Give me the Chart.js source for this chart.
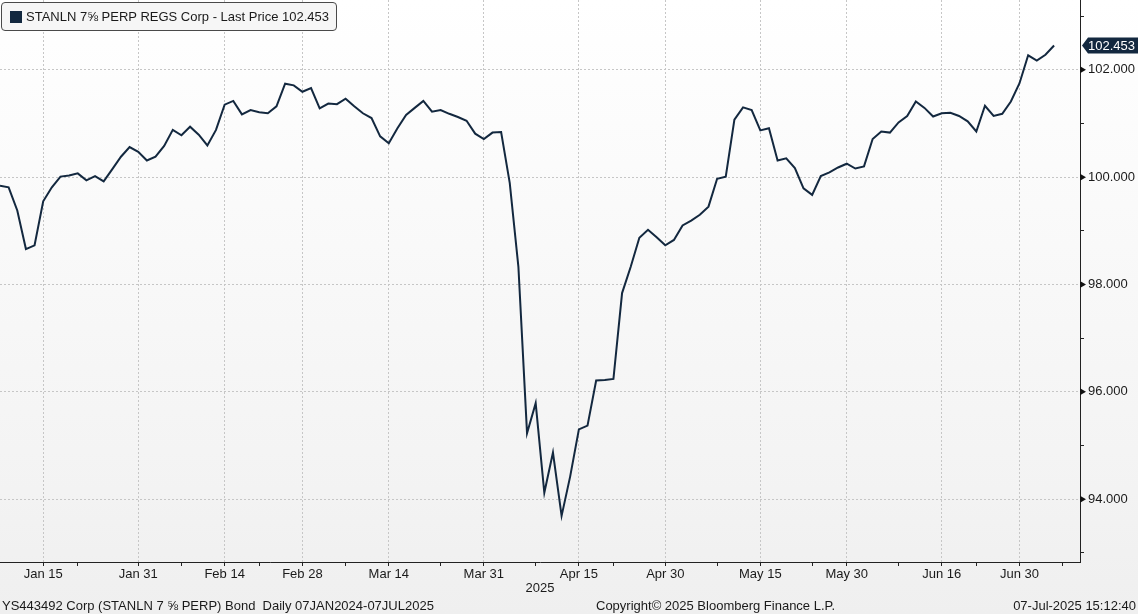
<!DOCTYPE html>
<html>
<head>
<meta charset="utf-8">
<script src="https://cdn.jsdelivr.net/npm/chart.js@4.4.1/dist/chart.umd.min.js"></script>
<style>
  html, body { margin: 0; padding: 0; }
  body {
    width: 1138px; height: 614px; overflow: hidden; position: relative;
    background: linear-gradient(to bottom, #ffffff 0%, #f3f3f3 80%, #efefef 100%);
    font-family: "Liberation Sans", Arial, sans-serif; color: #1a1a1a;
  }
  #wrap { position: absolute; left: 0; top: 0; width: 1138px; height: 614px; }
  .legend {
    position: absolute; left: 1px; top: 2px; width: 334px; height: 27px;
    border: 1px solid #4a4a4a; border-radius: 4px; background: #f6f6f6;
    font-size: 13px; line-height: 27px; box-sizing: content-box;
  }
  .legend .sw { position: absolute; left: 8px; top: 8px; width: 12px; height: 12px; background: #13283f; }
  .legend .txt { position: absolute; left: 24px; top: 0; white-space: nowrap; }
  .foot { position: absolute; top: 598px; font-size: 13px; white-space: nowrap; color: #1a1a1a; }
</style>
</head>
<body>
<div id="wrap"><canvas id="chart" width="1138" height="614"></canvas></div>
<div class="legend"><span class="sw"></span><span class="txt">STANLN 7⅝ PERP REGS Corp - Last Price 102.453</span></div>
<div class="foot" style="left:2px;">YS443492 Corp (STANLN 7 ⅝ PERP) Bond&nbsp; Daily 07JAN2024-07JUL2025</div>
<div class="foot" style="left:596px;">Copyright© 2025 Bloomberg Finance L.P.</div>
<div class="foot" style="right:2px;">07-Jul-2025 15:12:40</div>
<script>
// trading days shown on the axis (US bond holidays skipped)
const dates = [
  'Jan 8','Jan 9','Jan 10','Jan 13','Jan 14','Jan 15','Jan 16','Jan 17','Jan 21','Jan 22','Jan 23','Jan 24','Jan 27','Jan 28','Jan 29','Jan 30','Jan 31',
  'Feb 3','Feb 4','Feb 5','Feb 6','Feb 7','Feb 10','Feb 11','Feb 12','Feb 13','Feb 14','Feb 18','Feb 19','Feb 20','Feb 21','Feb 24','Feb 25','Feb 26','Feb 27','Feb 28',
  'Mar 3','Mar 4','Mar 5','Mar 6','Mar 7','Mar 10','Mar 11','Mar 12','Mar 13','Mar 14','Mar 17','Mar 18','Mar 19','Mar 20','Mar 21','Mar 24','Mar 25','Mar 26','Mar 27','Mar 28','Mar 31',
  'Apr 1','Apr 2','Apr 3','Apr 4','Apr 7','Apr 8','Apr 9','Apr 10','Apr 11','Apr 14','Apr 15','Apr 16','Apr 17','Apr 21','Apr 22','Apr 23','Apr 24','Apr 25','Apr 28','Apr 29','Apr 30',
  'May 1','May 2','May 5','May 6','May 7','May 8','May 9','May 12','May 13','May 14','May 15','May 16','May 19','May 20','May 21','May 22','May 23','May 27','May 28','May 29','May 30',
  'Jun 2','Jun 3','Jun 4','Jun 5','Jun 6','Jun 9','Jun 10','Jun 11','Jun 12','Jun 13','Jun 16','Jun 17','Jun 18','Jun 20','Jun 23','Jun 24','Jun 25','Jun 26','Jun 27','Jun 30',
  'Jul 1','Jul 2','Jul 3','Jul 7','Jul 8','Jul 9','Jul 10'
];

// last price per day
const prices = [
  99.84, 99.81, 99.38, 98.66, 98.73, 99.55, 99.81, 100.01, 100.03, 100.07, 99.94, 100.02, 99.92, 100.15, 100.38, 100.56, 100.47,
  100.31, 100.38, 100.58, 100.88, 100.78, 100.94, 100.79, 100.59, 100.88, 101.35, 101.42, 101.17, 101.25, 101.21, 101.19, 101.32, 101.74, 101.71, 101.59,
  101.66, 101.28, 101.37, 101.36, 101.46, 101.32, 101.19, 101.10, 100.76, 100.63, 100.91, 101.16, 101.29, 101.42, 101.22, 101.25, 101.18, 101.12, 101.05, 100.81, 100.71,
  100.83, 100.84, 99.89, 98.33, 95.23, 95.79, 94.12, 94.87, 93.69, 94.43, 95.30, 95.37, 96.21, 96.22, 96.24, 97.84, 98.33, 98.87, 99.02, 98.88, 98.73,
  98.83, 99.10, 99.19, 99.30, 99.45, 99.97, 100.01, 101.07, 101.30, 101.25, 100.87, 100.91, 100.31, 100.35, 100.17, 99.79, 99.67, 100.02, 100.09, 100.18, 100.25,
  100.16, 100.20, 100.71, 100.85, 100.83, 101.02, 101.14, 101.41, 101.29, 101.13, 101.19, 101.20, 101.14, 101.04, 100.85, 101.33, 101.14, 101.18, 101.41, 101.75,
  102.27, 102.17, 102.28, 102.453
];

const xMajor = ['Jan 15','Jan 31','Feb 14','Feb 28','Mar 14','Mar 31','Apr 15','Apr 30','May 15','May 30','Jun 16','Jun 30'];
const xMinor = ['Jan 22','Feb 7','Feb 21','Mar 7','Mar 24','Apr 8','Apr 22','May 8','May 23','Jun 9','Jun 23','Jul 8'];
const yTicks = [93, 94, 95, 96, 97, 98, 99, 100, 101, 102, 103];
const yMin = 92.83, yMax = 103.30;
const yearLabel = '2025';

const lineColor = '#13283f';
const gridColor = '#c6c6c6';
const isMajorY = v => Math.round(v) % 2 === 0;

Chart.defaults.font.family = '"Liberation Sans", Arial, sans-serif';
Chart.defaults.font.size = 13;
Chart.defaults.color = '#1a1a1a';

// extras: y triangles, last price tag, year label
const decor = {
  id: 'decor',
  afterDraw(chart) {
    const ctx = chart.ctx;
    const y = chart.scales.y;
    const ax = chart.chartArea.right;
    ctx.save();
    ctx.fillStyle = '#111';
    yTicks.filter(isMajorY).forEach(v => {
      const py = y.getPixelForValue(v);
      ctx.beginPath();
      ctx.moveTo(ax, py - 3.5);
      ctx.lineTo(ax + 6, py);
      ctx.lineTo(ax, py + 3.5);
      ctx.closePath();
      ctx.fill();
    });
    // last price tag
    const last = prices[prices.length - 1];
    const ty = y.getPixelForValue(last);
    ctx.fillStyle = lineColor;
    ctx.beginPath();
    ctx.moveTo(ax + 2, ty);
    ctx.lineTo(ax + 8, ty - 8);
    ctx.lineTo(chart.width, ty - 8);
    ctx.lineTo(chart.width, ty + 8);
    ctx.lineTo(ax + 8, ty + 8);
    ctx.closePath();
    ctx.fill();
    ctx.fillStyle = '#ffffff';
    ctx.font = '13px "Liberation Sans", Arial, sans-serif';
    ctx.textAlign = 'left';
    ctx.textBaseline = 'middle';
    ctx.fillText(last.toFixed(3), ax + 8, ty + 0.5);
    // year under the axis
    ctx.fillStyle = '#1a1a1a';
    ctx.textAlign = 'center';
    ctx.fillText(yearLabel, (chart.chartArea.left + chart.chartArea.right) / 2, 588);
    ctx.restore();
  }
};

new Chart(document.getElementById('chart'), {
  type: 'line',
  data: {
    labels: dates,
    datasets: [{
      label: 'STANLN 7⅝ PERP REGS Corp - Last Price',
      data: prices,
      borderColor: lineColor,
      borderWidth: 2,
      pointRadius: 0,
      tension: 0,
      fill: false
    }]
  },
  options: {
    responsive: false,
    animation: false,
    layout: { padding: 0 },
    plugins: { legend: { display: false }, tooltip: { enabled: false } },
    scales: {
      x: {
        type: 'category',
        offset: false,
        afterFit: s => { s.height = 52; s.paddingLeft = 0; s.paddingRight = 0; },
        grid: {
          offset: false,
          tickLength: 4,
          color: c => xMajor.includes(dates[c.index]) ? gridColor : 'rgba(0,0,0,0)',
          tickColor: c => (xMajor.includes(dates[c.index]) || xMinor.includes(dates[c.index])) ? '#222' : 'rgba(0,0,0,0)'
        },
        border: { display: true, color: '#222', width: 1, dash: [2, 2] },
        ticks: {
          autoSkip: false,
          maxRotation: 0,
          padding: 1,
          callback: function(val, i) { return xMajor.includes(dates[i]) ? dates[i] : ''; }
        }
      },
      y: {
        position: 'right',
        min: yMin,
        max: yMax,
        afterBuildTicks: s => { s.ticks = yTicks.map(v => ({ value: v })); },
        afterFit: s => { s.width = 58; s.paddingTop = 0; s.paddingBottom = 0; },
        grid: {
          tickLength: 4,
          color: c => isMajorY(c.tick.value) ? gridColor : 'rgba(0,0,0,0)',
          tickColor: c => isMajorY(c.tick.value) ? 'rgba(0,0,0,0)' : '#222'
        },
        border: { display: true, color: '#222', width: 1, dash: [2, 2] },
        ticks: {
          padding: 4,
          callback: v => isMajorY(v) ? v.toFixed(3) : ''
        }
      }
    }
  },
  plugins: [decor]
});
</script>
</body>
</html>
